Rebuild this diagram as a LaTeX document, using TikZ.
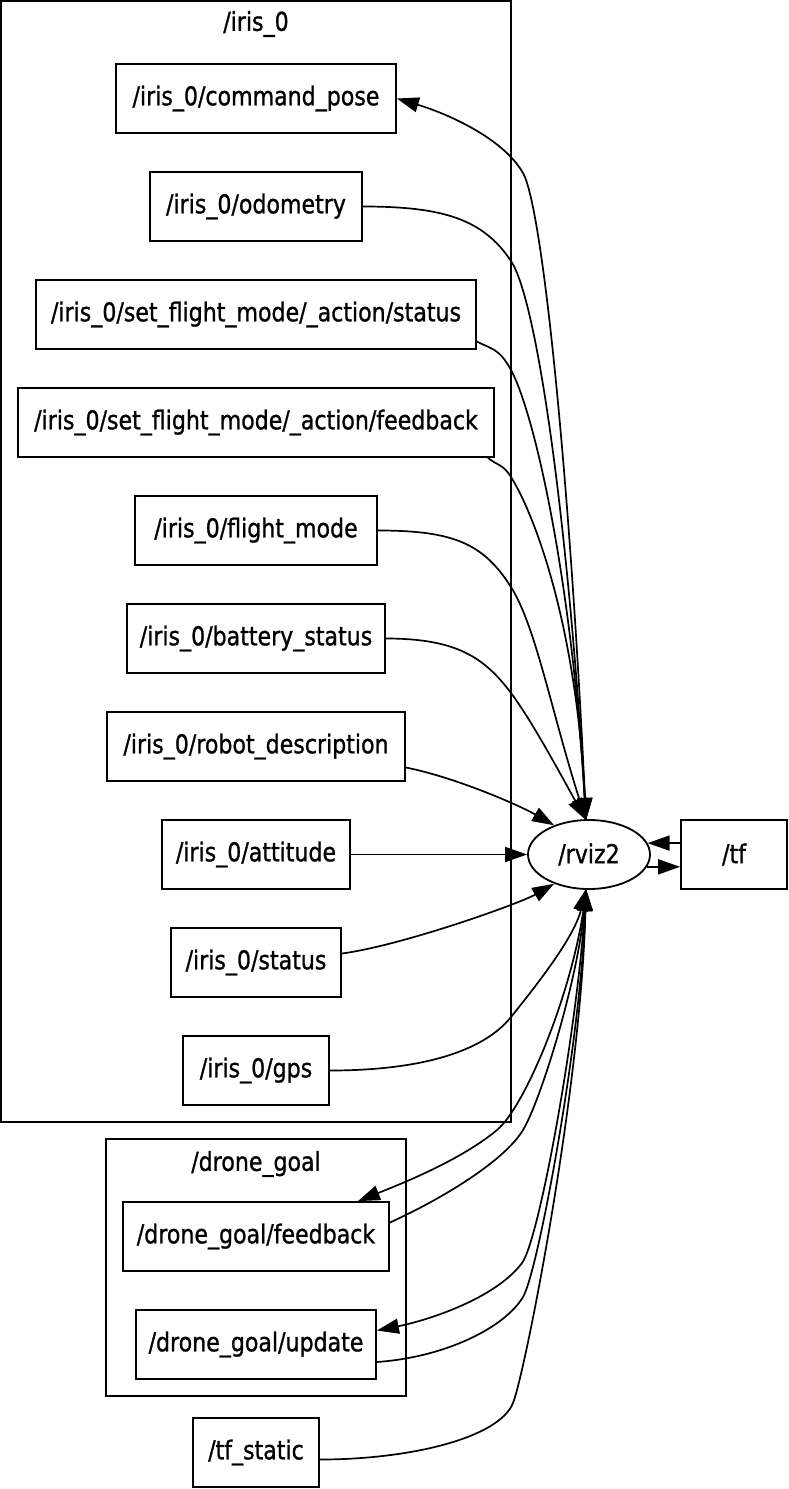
\documentclass[tikz,border=0pt]{standalone}
\usepackage{fontspec}
\setmainfont{DejaVu Sans}[FakeStretch=0.85,FakeBold=1]
\usetikzlibrary{arrows.meta,shapes.geometric,calc}

\tikzset{
    topic/.style={draw, line width=1.8pt, rectangle, minimum height=69pt, minimum width=#1, inner xsep=8pt, font=\fontsize{26}{30}\selectfont},
    topic/.default=100pt,
    rosnode/.style={draw, line width=1.8pt, ellipse, minimum width=122pt, minimum height=69pt, inner sep=0pt, font=\fontsize{26}{30}\selectfont},
    cluster/.style={draw, line width=1.8pt},
    clusterlabel/.style={font=\fontsize{26}{30}\selectfont},
    edge/.style={line width=1.7pt, -{Triangle[length=22pt,width=15pt]}}
}

\begin{document}
\begin{tikzpicture}[x=1pt,y=-1pt]
        \useasboundingbox (0,0) rectangle (788,1489);
        %% Clusters
        \draw[cluster] (1,1) rectangle (511,1122);
        \node[clusterlabel] (irislabel) at (256,24) {/iris\_0};
        \draw[cluster] (106,1139) rectangle (406,1396);
        \node[clusterlabel] (goallabel) at (256,1164) {/drone\_goal};
        %% Topics
        \node[topic=280pt] (cmdpose) at (256,98.5) {/iris\_0/command\_pose};
        \node[topic=212pt] (odom) at (256,206.5) {/iris\_0/odometry};
        \node[topic=440pt] (actstatus) at (256,314.5) {/iris\_0/set\_flight\_mode/\_action/status};
        \node[topic=476pt] (actfeedback) at (256,422.5) {/iris\_0/set\_flight\_mode/\_action/feedback};
        \node[topic=242pt] (flightmode) at (256,530.5) {/iris\_0/flight\_mode};
        \node[topic=258pt] (battery) at (256,638.5) {/iris\_0/battery\_status};
        \node[topic=298pt] (robotdesc) at (256,746.5) {/iris\_0/robot\_description};
        \node[topic=188pt] (attitude) at (256,854.5) {/iris\_0/attitude};
        \node[topic=170pt] (status) at (256,962.5) {/iris\_0/status};
        \node[topic=146pt] (gps) at (256,1070.5) {/iris\_0/gps};
        \node[topic=266pt] (goalfb) at (256,1236.5) {/drone\_goal/feedback};
        \node[topic=240pt] (goalupd) at (256,1344.5) {/drone\_goal/update};
        \node[topic=126pt] (tfstatic) at (256,1452.5) {/tf\_static};
        \node[topic=106pt] (tf) at (734,854.5) {/tf};
        %% Node
        \node[rosnode] (rviz2) at (589,854.5) {/rviz2};
        \coordinate (rtop) at ($(rviz2.north)+(-3,1)$);
        \coordinate (rbot) at ($(rviz2.south)+(-3,-1)$);
        %% Upper edges
        \draw[edge] (rtop) .. controls +(-15,-330) and +(20,35) .. (523,173) .. controls +(-20,-35) and +(50,15) .. (cmdpose.east);
        \draw[edge] (odom.east) .. controls +(80,0) and +(-28,-42) .. (511,261) .. controls +(26,39) and +(-18,-300) .. (rtop);
        \draw[edge] ($(actstatus.east)+(0,27)$) .. controls +(15,8) and +(-12,-22) .. (511,370) .. controls +(22,40) and +(-15,-250) .. (rtop);
        \draw[edge] ($(actfeedback.south east)+(-7,0)$) .. controls +(10,8) and +(-8,-13) .. (511,477) .. controls +(22,35) and +(-10,-200) .. (rtop);
        \draw[edge] (flightmode.east) .. controls +(75,0) and +(-28,-44) .. (511,587) .. controls +(25,40) and +(-35,-110) .. (rtop);
        \draw[edge] (battery.east) .. controls +(70,0) and +(-27,-36) .. (511,693) .. controls +(21,28) and +(-25,-45) .. (rtop);
        \draw[edge] ($(robotdesc.east)+(0,21)$) .. controls +(50,10) and +(-35,-20) .. (rviz2.140);
        %% Middle edges
        \draw[edge] (attitude.east) -- (rviz2.west);
        \draw[edge] ($(status.east)+(0,-9)$) .. controls +(60,-8) and +(-35,20) .. (rviz2.220);
        \draw[edge] (tf.west |- rviz2.11) -- (rviz2.11);
        \draw[edge] (rviz2.-12) -- (tf.west |- rviz2.-12);
        %% Lower edges
        \draw[edge] (gps.east) .. controls +(90,0) and +(-28,35) .. (511,1017) .. controls +(20,-25) and +(-12,50) .. (rbot);
        \draw[edge] (rbot) .. controls +(-8,90) and +(30,-25) .. (497,1130) .. controls +(-36,30) and +(45,-18) .. ($(goalfb.north east)+(-32,0)$);
        \draw[edge] ($(goalfb.east)+(0,-14)$) .. controls +(55,-25) and +(-18,30) .. (523,1130) .. controls +(18,-30) and +(-8,90) .. (rbot);
        \draw[edge] (rbot) .. controls +(-5,120) and +(18,-24) .. (522,1263) .. controls +(-27,36) and +(50,-10) .. ($(goalupd.east)+(0,-14)$);
        \draw[edge] ($(goalupd.east)+(0,17.5)$) .. controls +(70,-5) and +(-18,30) .. (523,1297) .. controls +(15,-25) and +(-5,150) .. (rbot);
        \draw[edge] ($(tfstatic.east)+(0,7)$) .. controls +(90,0) and +(-14,35) .. (513,1403) .. controls +(12,-30) and +(-5,200) .. (rbot);
    \end{tikzpicture}
\end{document}
